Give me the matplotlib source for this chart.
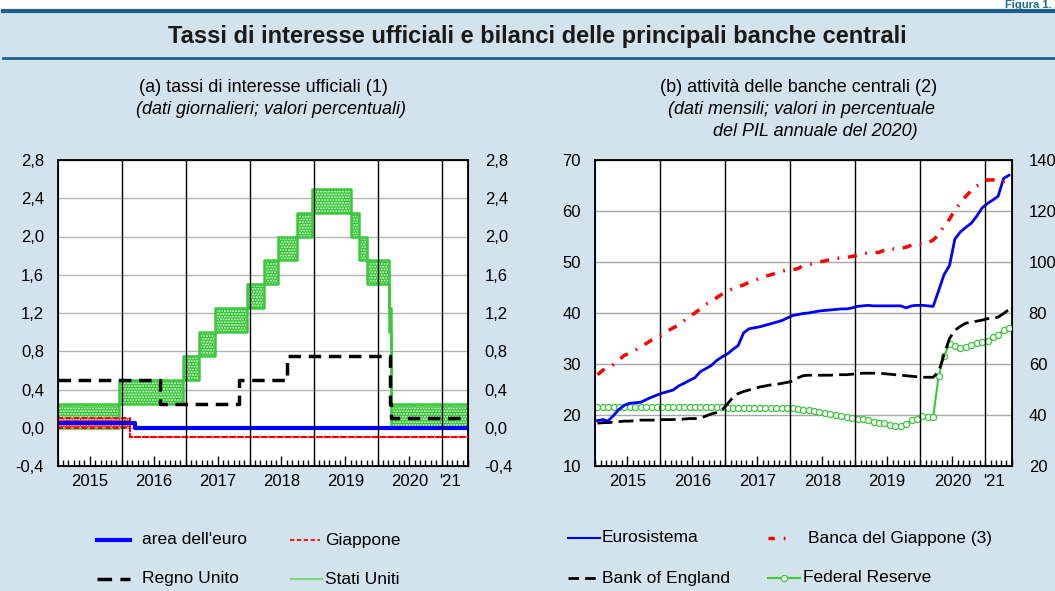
import numpy as np
import pandas as pd
import matplotlib
matplotlib.use('Agg')
import matplotlib.pyplot as plt
from matplotlib.lines import Line2D
from matplotlib.patches import Rectangle
import matplotlib.dates as mdates
from matplotlib.ticker import FuncFormatter, FixedLocator, MultipleLocator

plt.rcParams['font.family'] = ['Liberation Sans', 'DejaVu Sans']
plt.rcParams['hatch.linewidth'] = 0.9

W, H = 1055, 591
BG = '#d3e3ed'
DARK = '#1f5f8b'

# ---------------- panel (a): official rates, step changes (daily data)
ecb_dates = ['2015-01-01', '2016-03-16', '2021-05-31']
ecb_rate = [0.05, 0.0, 0.0]

jp_dates = ['2015-01-01', '2016-02-16', '2021-05-31']
jp_low = [0.0, -0.1, -0.1]
jp_high = [0.1, -0.1, -0.1]

uk_dates = ['2015-01-01', '2016-08-04', '2017-11-02', '2018-08-02',
            '2020-03-11', '2020-03-19', '2021-05-31']
uk_rate = [0.5, 0.25, 0.5, 0.75, 0.25, 0.1, 0.1]

us_dates = ['2015-01-01', '2015-12-17', '2016-12-15', '2017-03-16', '2017-06-15',
            '2017-12-14', '2018-03-22', '2018-06-14', '2018-09-27', '2018-12-20',
            '2019-08-01', '2019-09-19', '2019-10-31', '2020-03-04', '2020-03-16',
            '2021-05-31']
us_low = [0.0, 0.25, 0.5, 0.75, 1.0, 1.25, 1.5, 1.75, 2.0, 2.25,
          2.0, 1.75, 1.5, 1.0, 0.0, 0.0]
us_high = [0.25, 0.5, 0.75, 1.0, 1.25, 1.5, 1.75, 2.0, 2.25, 2.5,
           2.25, 2.0, 1.75, 1.25, 0.25, 0.25]

# ---------------- panel (b): balance sheets, % of 2020 GDP (monthly)
months = pd.date_range('2015-01-01', '2021-05-01', freq='MS') + pd.Timedelta(days=14)

eurosystem = [18.9, 19.1, 18.8, 19.9, 21.1, 21.9, 22.3, 22.4, 22.5, 23.0, 23.5, 23.9,
              24.3, 24.6, 24.9, 25.7, 26.2, 26.8, 27.3, 28.5, 29.1, 29.7, 30.7, 31.4,
              32.0, 32.9, 33.6, 36.1, 36.9, 37.1, 37.3, 37.6, 37.9, 38.2, 38.5, 39.0,
              39.5, 39.7, 39.9, 40.0, 40.2, 40.4, 40.5, 40.6, 40.7, 40.8, 40.8, 41.0,
              41.3, 41.4, 41.5, 41.4, 41.4, 41.4, 41.4, 41.4, 41.4, 41.0, 41.4, 41.5,
              41.5, 41.4, 41.3, 44.4, 47.5, 49.3, 54.5, 55.9, 56.8, 57.6, 59.0, 60.6,
              61.5, 62.2, 62.9, 66.4, 67.0]

# Bank of Japan is read on the right-hand scale
boj = [55.8, 57.6, 58.8, 59.8, 61.6, 63.4, 64.2, 65.4, 66.8, 68.0, 69.4, 70.4,
       71.6, 73.0, 74.2, 75.2, 77.0, 78.6, 80.0, 81.6, 83.4, 84.6, 86.0, 87.4,
       88.6, 89.6, 90.4, 91.0, 92.0, 92.8, 93.6, 94.4, 95.0, 95.6, 96.4, 96.8,
       97.0, 97.4, 98.6, 99.0, 99.4, 100.0, 100.4, 101.0, 101.4, 101.6, 101.8, 102.2,
       102.6, 103.2, 103.6, 103.6, 103.8, 104.6, 105.4, 105.0, 105.4, 105.8, 106.6, 107.2,
       106.8, 107.6, 108.6, 110.8, 114.2, 116.8, 120.4, 123.2, 125.8, 128.0, 129.8, 131.0,
       132.2, 132.2, 131.2, 131.6, 133.4]

boe = [18.4, 18.5, 18.5, 18.6, 18.7, 18.8, 18.8, 18.9, 19.0, 19.0, 19.0, 19.0,
       19.1, 19.1, 19.1, 19.2, 19.2, 19.3, 19.3, 19.4, 19.8, 20.2, 20.5, 21.0,
       22.2, 23.5, 24.2, 24.6, 24.9, 25.2, 25.5, 25.7, 25.9, 26.0, 26.2, 26.4,
       26.6, 27.3, 27.7, 27.8, 27.8, 27.8, 27.8, 27.8, 27.9, 27.9, 27.9, 28.0,
       28.1, 28.2, 28.2, 28.2, 28.2, 28.1, 28.0, 27.9, 27.8, 27.7, 27.6, 27.5,
       27.4, 27.4, 27.4, 28.5, 31.8, 35.0, 36.6, 37.4, 38.0, 38.2, 38.4, 38.6,
       38.9, 38.9, 39.2, 39.9, 40.7]

fed = [21.6, 21.6, 21.6, 21.5, 21.5, 21.5, 21.5, 21.5, 21.5, 21.5, 21.5, 21.5,
       21.5, 21.5, 21.5, 21.5, 21.5, 21.5, 21.5, 21.5, 21.5, 21.5, 21.5, 21.5,
       21.4, 21.4, 21.4, 21.4, 21.4, 21.4, 21.4, 21.4, 21.4, 21.4, 21.4, 21.4,
       21.3, 21.2, 21.0, 20.9, 20.7, 20.5, 20.3, 20.1, 20.0, 19.8, 19.6, 19.5,
       19.3, 19.2, 19.0, 18.6, 18.5, 18.4, 18.0, 17.9, 17.9, 18.3, 19.0, 19.3,
       19.8, 19.7, 19.7, 27.6, 31.6, 33.9, 33.5, 33.2, 33.4, 33.7, 34.1, 34.4,
       34.5, 35.2, 35.6, 36.7, 37.1]

year_labels = ['2015', '2016', '2017', '2018', '2019', '2020', "'21"]


def fx(x):
    return x / W


def fy(y):
    return 1 - y / H


def comma(v, pos, nd=1):
    return f'{v:.{nd}f}'.replace('.', ',')


def setup_time_axis(ax):
    ax.set_xlim(pd.Timestamp('2015-01-01'), pd.Timestamp('2021-06-01'))
    majors = [mdates.date2num(pd.Timestamp(f'{y}-07-01')) for y in range(2015, 2021)]
    majors.append(mdates.date2num(pd.Timestamp('2021-02-20')))
    ax.xaxis.set_major_locator(FixedLocator(majors))
    ax.xaxis.set_major_formatter(FuncFormatter(lambda v, p: year_labels[p] if p is not None and p < len(year_labels) else ''))
    ax.xaxis.set_minor_locator(mdates.MonthLocator())
    ax.tick_params(axis='x', which='major', direction='in', length=7, width=1,
                   labelsize=12, pad=6)
    ax.tick_params(axis='x', which='minor', direction='in', length=4, width=1)
    ax.xaxis.get_major_ticks()[-1].tick1line.set_visible(False)
    for y in range(2016, 2022):
        ax.axvline(pd.Timestamp(f'{y}-01-01'), color='black', lw=1, zorder=6)
    for s in ax.spines.values():
        s.set_linewidth(1.3)


fig = plt.figure(figsize=(W / 100, H / 100), dpi=100)
fig.patch.set_facecolor(BG)
fig.add_artist(Rectangle((0, fy(10)), 1, 1 - fy(10), transform=fig.transFigure,
                         facecolor='white', edgecolor='none', zorder=0))
fig.add_artist(Line2D([0.003, 1], [fy(11), fy(11)], color=DARK, lw=3))
fig.add_artist(Line2D([0.003, 1], [fy(58), fy(58)], color=DARK, lw=2))
fig.text(fx(1052), fy(0.5), 'Figura 1.', color='#1a6e8e', fontsize=8,
         fontweight='bold', ha='right', va='top')
fig.text(fx(537), fy(37), 'Tassi di interesse ufficiali e bilanci delle principali banche centrali',
         fontsize=17, fontweight='bold', ha='center', va='center', color='#1a1a1a')

fig.text(fx(263), fy(88), '(a) tassi di interesse ufficiali (1)', fontsize=13,
         ha='center', va='center')
fig.text(fx(271), fy(110), '(dati giornalieri; valori percentuali)', fontsize=13,
         ha='center', va='center', style='italic')
fig.text(fx(799), fy(88), '(b) attività delle banche centrali (2)', fontsize=13,
         ha='center', va='center')
fig.text(fx(802), fy(110), '(dati mensili; valori in percentuale', fontsize=13,
         ha='center', va='center', style='italic')
fig.text(fx(815), fy(131), 'del PIL annuale del 2020)', fontsize=13,
         ha='center', va='center', style='italic')

# ---------------- panel (a)
ax1 = fig.add_axes([fx(58), fy(466), fx(410), 306 / H])
ax1.set_facecolor('white')
us_d = pd.to_datetime(us_dates)
ax1.fill_between(us_d, us_low, us_high, step='post', facecolor='#33c433',
                 edgecolor='#e8ffe8', hatch='......', linewidth=0, zorder=2)
ax1.plot(us_d, us_low, drawstyle='steps-post', color='#3cc83c', lw=1.8, zorder=2.5)
ax1.plot(us_d, us_high, drawstyle='steps-post', color='#3cc83c', lw=1.8, zorder=2.5)

jp_d = pd.to_datetime(jp_dates)
ax1.fill_between(jp_d, jp_low, jp_high, step='post', facecolor='#ff2020',
                 edgecolor='white', hatch='......', linewidth=0, zorder=3)
ax1.plot(jp_d, jp_high, drawstyle='steps-post', color='red', lw=1.5,
         dashes=(2.4, 1.4), zorder=3.5)
ax1.plot(jp_d, jp_low, drawstyle='steps-post', color='red', lw=1.5,
         dashes=(2.4, 1.4), zorder=3.5)

ax1.plot(pd.to_datetime(uk_dates), uk_rate, drawstyle='steps-post', color='black',
         lw=2.5, dashes=(3.6, 2.2), zorder=4)
ax1.plot(pd.to_datetime(ecb_dates), ecb_rate, drawstyle='steps-post', color='#0000ff',
         lw=3, zorder=5)

ax1.set_ylim(-0.4, 2.8)
ax1.yaxis.set_major_locator(MultipleLocator(0.4))
ax1.yaxis.set_major_formatter(FuncFormatter(comma))
ax1.tick_params(axis='y', length=0, labelsize=12, pad=10)
ax1.grid(axis='y', color='#b4b4b4', lw=1)
ax1.set_axisbelow(True)
setup_time_axis(ax1)
ax1r = ax1.twinx()
ax1r.set_ylim(-0.4, 2.8)
ax1r.yaxis.set_major_locator(MultipleLocator(0.4))
ax1r.yaxis.set_major_formatter(FuncFormatter(comma))
ax1r.tick_params(axis='y', length=0, labelsize=12, pad=12)

# ---------------- panel (b)
ax2 = fig.add_axes([fx(595), fy(466), fx(417), 306 / H])
ax2.set_facecolor('white')
ax2.set_ylim(10, 70)
ax2.yaxis.set_major_locator(MultipleLocator(10))
ax2.yaxis.set_major_formatter(FuncFormatter(lambda v, p: f'{v:.0f}'))
ax2.tick_params(axis='y', length=0, labelsize=12, pad=10)
ax2.grid(axis='y', color='#a8a8a8', lw=1)
ax2.set_axisbelow(True)
setup_time_axis(ax2)
ax2r = ax2.twinx()
ax2r.set_ylim(20, 140)
ax2r.yaxis.set_major_locator(MultipleLocator(20))
ax2r.yaxis.set_major_formatter(FuncFormatter(lambda v, p: f'{v:.0f}'))
ax2r.tick_params(axis='y', length=0, labelsize=12, pad=12)

ax2.plot(months, fed, color='#3cc83c', lw=1.5, marker='o', markersize=4.4,
         markerfacecolor='white', markeredgecolor='#3cc83c', markeredgewidth=0.9, zorder=3)
ax2.plot(months, boe, color='black', lw=2, dashes=(5.4, 2.2), zorder=3)
ax2.plot(months, eurosystem, color='#0000ff', lw=2, zorder=4)
ax2r.plot(months, boj, color='red', lw=2.5, dashes=(2.6, 2.5, 0.5, 2.5), zorder=4)

# ---------------- legends (drawn by hand to keep the original spacing)
def leg_line(x1, x2, y, **kw):
    fig.add_artist(Line2D([fx(x1), fx(x2)], [fy(y), fy(y)], **kw))


def leg_text(x, y, s):
    fig.text(fx(x), fy(y), s, fontsize=12.5, ha='left', va='center')


leg_line(97, 130, 540, color='#0000ff', lw=3)
leg_text(142, 540, "area dell'euro")
leg_line(290, 320, 540, color='red', lw=1.3, dashes=(2.4, 1.4))
leg_text(325, 540, 'Giappone')
leg_line(97, 130, 579, color='black', lw=2.5, dashes=(4.2, 2.4))
leg_text(142, 579, 'Regno Unito')
leg_line(291, 322, 579, color='#77dd77', lw=1.5)
leg_text(325, 579, 'Stati Uniti')

leg_line(568, 600, 538, color='#0000ff', lw=1.5)
leg_text(602, 538, 'Eurosistema')
leg_line(768, 792, 538, color='red', lw=2.5, dashes=(1.8, 2.6, 0.5, 2.0))
leg_text(808, 538, 'Banca del Giappone (3)')
leg_line(568, 600, 578, color='black', lw=2, dashes=(3.8, 2.2))
leg_text(602, 578, 'Bank of England')
leg_line(768, 800, 578, color='#3cc83c', lw=1.5)
fig.add_artist(Line2D([fx(784)], [fy(578)], marker='o', markersize=4.4,
                      markerfacecolor='white', markeredgecolor='#3cc83c',
                      markeredgewidth=0.9, transform=fig.transFigure))
leg_text(803, 578, 'Federal Reserve')

fig.savefig('out.png', dpi=100, facecolor=fig.get_facecolor())
